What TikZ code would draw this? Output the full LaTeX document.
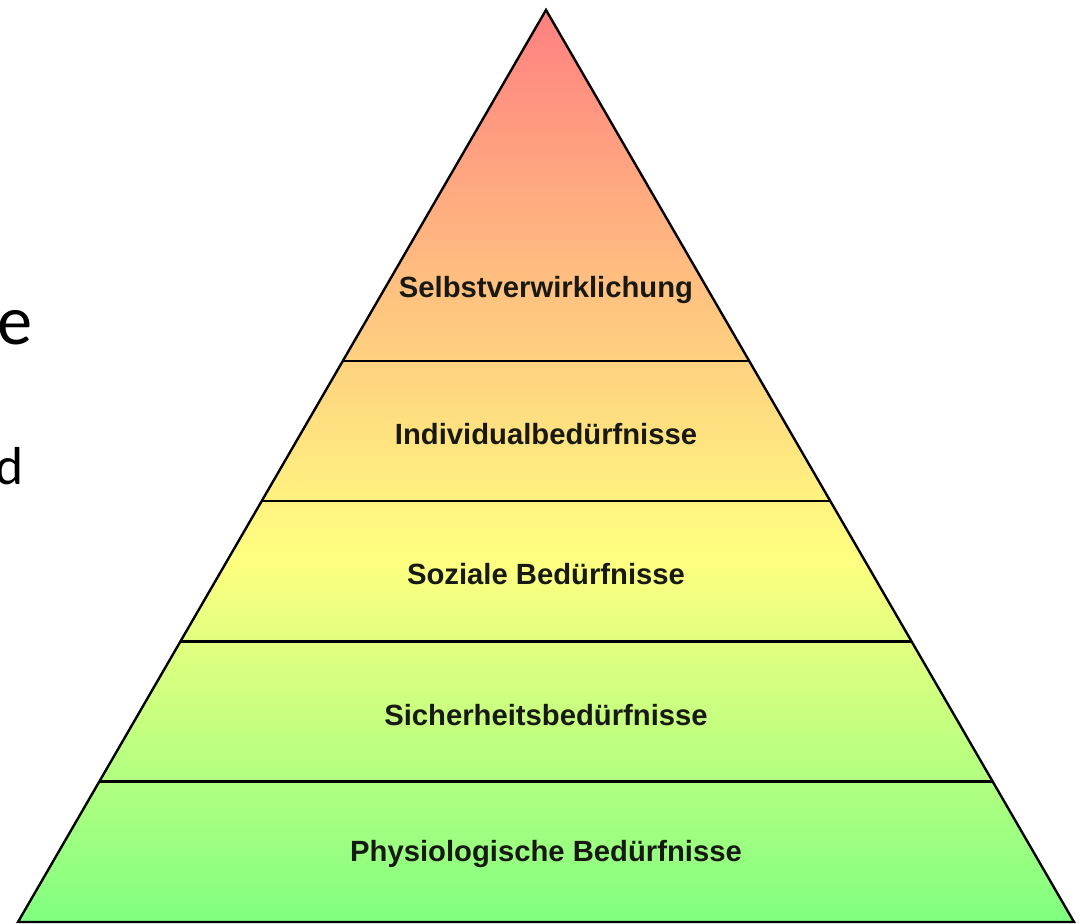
\documentclass[tikz,border=0pt]{standalone}
\usepackage{fontspec}
\setmainfont{Liberation Sans}
\newfontfamily\slidefont{Carlito}
\usetikzlibrary{calc}

\begin{document}
\begin{tikzpicture}
\definecolor{topcolor}{RGB}{255,128,128}
\definecolor{midcolor}{RGB}{255,255,128}
\definecolor{lowcolor}{RGB}{128,255,128}
\definecolor{linecolor}{RGB}{0,0,0}
\definecolor{textcolor}{RGB}{25,25,20}
\pgfdeclareverticalshading{maslowshade}{100bp}{color(0bp)=(lowcolor); color(25bp)=(lowcolor); color(45bp)=(midcolor); color(75bp)=(topcolor); color(100bp)=(topcolor)}
\tikzset{
  layerline/.style={line width=1.7pt,linecolor},
  layertext/.style={inner sep=0pt,textcolor,font=\bfseries\fontsize{20.8}{24}\selectfont},
  slidetext/.style={inner sep=0pt,black,anchor=base east}
}
\useasboundingbox (0,0) rectangle (27.025,23.1);
\coordinate (apex) at (13.65,22.85);
\coordinate (bl) at (0.45,0.05);
\coordinate (br) at (26.85,0.05);
\shade [shading=maslowshade] (apex) -- (br) -- (bl) -- cycle;
\foreach \f in {5,7,9,11}
  \draw [layerline] ($(apex)!\f/13!(bl)$) -- ($(apex)!\f/13!(br)$);
\draw [layerline,line join=miter] (apex) -- (br) -- (bl) -- cycle;
\node [layertext] (self) at (13.65,15.85) {Selbstverwirklichung};
\node [layertext] (indiv) at (13.65,12.25) {Individualbedürfnisse};
\node [layertext] (social) at (13.65,8.75) {Soziale Bedürfnisse};
\node [layertext] (safety) at (13.65,5.22) {Sicherheitsbedürfnisse};
\node [layertext] (physio) at (13.65,1.76) {Physiologische Bedürfnisse};
\node [slidetext,font=\slidefont\fontsize{50}{60}\selectfont] (cute) at (0.83,14.475) {e};
\node [slidetext,font=\slidefont\fontsize{38}{46}\selectfont] (cutd) at (0.6,10.975) {d};
\end{tikzpicture}
\end{document}
